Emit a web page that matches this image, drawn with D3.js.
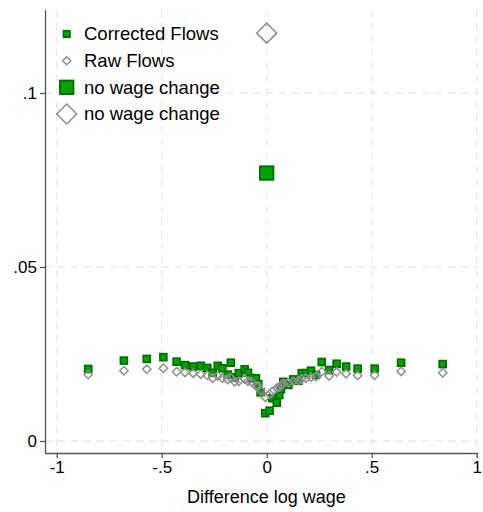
<!DOCTYPE html>
<html>
<head>
<meta charset="utf-8">
<script src="https://cdn.jsdelivr.net/npm/d3@7/dist/d3.min.js"></script>
<style>
  html, body { margin: 0; padding: 0; background: #fff; }
  svg { display: block; font-family: "Liberation Sans", Arial, Helvetica, sans-serif; }
</style>
</head>
<body>
<svg id="chart" width="483" height="512"></svg>
<script>
// Binned log-wage differences and flow rates per bin
const wageDiff = [-0.85, -0.68, -0.571, -0.492, -0.429, -0.389, -0.35, -0.314, -0.283, -0.257,
  -0.233, -0.211, -0.186, -0.171, -0.152, -0.133, -0.105, -0.089, -0.073, -0.051,
  -0.04, -0.029, -0.007, 0.014, 0.027, 0.048, 0.06, 0.068, 0.079, 0.103,
  0.127, 0.151, 0.167, 0.187, 0.211, 0.235, 0.262, 0.297, 0.333, 0.378,
  0.433, 0.514, 0.640, 0.838];
const correctedFlows = [0.0207, 0.0231, 0.0236, 0.0241, 0.0228, 0.0218, 0.0214, 0.0216, 0.0210, 0.0196,
  0.0216, 0.0209, 0.0191, 0.0225, 0.0183, 0.0195, 0.0206, 0.0196, 0.0181, 0.0180,
  0.0163, 0.0140, 0.0080, 0.0087, 0.0123, 0.0110, 0.0132, 0.0149, 0.0170, 0.0161,
  0.0177, 0.0173, 0.0195, 0.0195, 0.0202, 0.0190, 0.0227, 0.0204, 0.0222, 0.0214,
  0.0208, 0.0208, 0.0225, 0.0221];
const rawFlows = [0.0191, 0.0202, 0.0206, 0.0209, 0.0199, 0.0197, 0.0195, 0.0192, 0.0189, 0.0180,
  0.0187, 0.0181, 0.0177, 0.0181, 0.0170, 0.0172, 0.0178, 0.0172, 0.0170, 0.0158,
  0.0158, 0.0145, 0.0126, 0.0135, 0.0142, 0.0152, 0.0155, 0.0160, 0.0165, 0.0168,
  0.0172, 0.0174, 0.0178, 0.0180, 0.0183, 0.0185, 0.0199, 0.0187, 0.0198, 0.0193,
  0.0188, 0.0189, 0.0200, 0.0196];
// Flow rates for workers with no wage change
const noChangeCorrected = 0.0770;
const noChangeRaw = 0.1172;

const xTicks = [-1, -0.5, 0, 0.5, 1];
const xTickLabels = ["-1", "-.5", "0", ".5", "1"];
const yTicks = [0, 0.05, 0.1];
const yTickLabels = ["0", ".05", ".1"];
const legendLabels = ["Corrected Flows", "Raw Flows", "no wage change", "no wage change"];

const svg = d3.select("#chart");
const plotL = 45, plotR = 478, plotT = 10, plotB = 453;

const x = d3.scaleLinear().domain([-1, 1]).range([56.7, 476.7]);
const y = d3.scaleLinear().domain([0, 0.1]).range([441, 93]);

const green = "#00a300", greenDark = "#006b00", gray = "#8f8f8f";

// Grid lines
const grid = svg.append("g").attr("stroke", "#e8e8e8").attr("stroke-width", 1.3).attr("stroke-dasharray", "7,6");
grid.selectAll(".vg").data(xTicks).join("line")
  .attr("x1", d => x(d)).attr("x2", d => x(d)).attr("y1", plotT).attr("y2", plotB);
grid.selectAll(".hg").data(yTicks).join("line")
  .attr("x1", plotL).attr("x2", plotR).attr("y1", d => y(d)).attr("y2", d => y(d));

// Axes
const xAxis = d3.axisBottom(x).tickValues(xTicks).tickSize(5).tickPadding(3)
  .tickFormat((d, i) => xTickLabels[i]);
const gx = svg.append("g").attr("transform", `translate(0,${plotB})`).call(xAxis);
gx.select(".domain").attr("d", `M${plotL},0.5H${plotR}`);

const yAxis = d3.axisLeft(y).tickValues(yTicks).tickSize(5).tickPadding(3)
  .tickFormat((d, i) => yTickLabels[i]);
const gy = svg.append("g").attr("transform", `translate(${plotL},0)`).call(yAxis);
gy.select(".domain").attr("d", `M0.5,${plotT}V${plotB}`);

[gx, gy].forEach(g => {
  g.selectAll(".domain").attr("stroke", "#555").attr("stroke-width", 1.3);
  g.selectAll(".tick line").attr("stroke", "#555").attr("stroke-width", 1.3);
  g.selectAll("text").attr("font-size", 17).attr("fill", "#000")
    .attr("font-family", "'Liberation Sans', Arial, sans-serif");
});

svg.append("text").attr("x", (plotL + plotR) / 2 + 5).attr("y", 503)
  .attr("text-anchor", "middle").attr("font-size", 18).text("Difference log wage");

// Marker helpers
function square(g, cx, cy, s, sw) {
  g.append("rect").attr("x", cx - s / 2).attr("y", cy - s / 2).attr("width", s).attr("height", s)
    .attr("fill", green).attr("stroke", greenDark).attr("stroke-width", sw);
}
function diamond(g, cx, cy, r, sw) {
  g.append("path").attr("d", `M${cx},${cy - r}L${cx + r},${cy}L${cx},${cy + r}L${cx - r},${cy}Z`)
    .attr("fill", "none").attr("stroke", gray).attr("stroke-width", sw);
}

const marks = svg.append("g");
wageDiff.forEach((d, i) => square(marks, x(d), y(correctedFlows[i]), 7, 1.6));
wageDiff.forEach((d, i) => diamond(marks, x(d), y(rawFlows[i]), 4.2, 1.5));
square(marks, x(0), y(noChangeCorrected), 13.5, 1.8);
diamond(marks, x(0), y(noChangeRaw), 10, 1.5);

// Legend
const legend = svg.append("g");
const rowsY = [34, 60.7, 87.3, 114];
const mx = 66.7;
square(legend, mx, rowsY[0], 6.5, 1.6);
diamond(legend, mx, rowsY[1], 4, 1.5);
square(legend, mx, rowsY[2], 13.5, 1.8);
diamond(legend, mx, rowsY[3], 10, 1.5);
legend.selectAll("text").data(legendLabels).join("text")
  .attr("x", 84).attr("y", (d, i) => rowsY[i]).attr("dy", "0.35em")
  .attr("font-size", 18.5).attr("fill", "#000").text(d => d);
</script>
</body>
</html>
